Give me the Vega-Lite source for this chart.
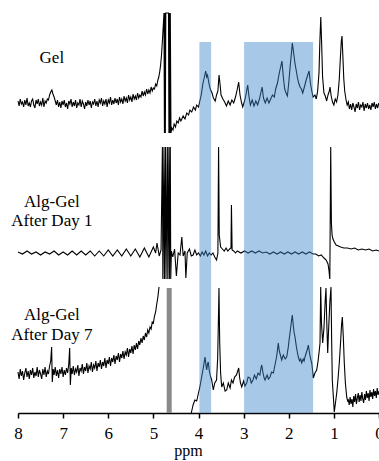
{
"$schema":"https://vega.github.io/schema/vega-lite/v6.json",
"width":361,"height":413,
"autosize":{"type":"none"},
"padding":{"left":18,"top":0,"right":0,"bottom":48},
"config":{"view":{"stroke":null}},
"datasets":{
"gel":[
{"ppm":8.000,"v":312},{"ppm":7.975,"v":307},{"ppm":7.950,"v":314},{"ppm":7.925,"v":309},{"ppm":7.900,"v":311},{"ppm":7.875,"v":306},{"ppm":7.850,"v":313},{"ppm":7.825,"v":308},{"ppm":7.800,"v":315},{"ppm":7.775,"v":307},{"ppm":7.750,"v":310},{"ppm":7.725,"v":306},{"ppm":7.700,"v":312},{"ppm":7.675,"v":314},{"ppm":7.650,"v":308},{"ppm":7.625,"v":305},{"ppm":7.600,"v":313},{"ppm":7.575,"v":309},{"ppm":7.550,"v":314},{"ppm":7.525,"v":307},{"ppm":7.500,"v":311},{"ppm":7.475,"v":308},{"ppm":7.450,"v":315},{"ppm":7.425,"v":306},{"ppm":7.400,"v":312},{"ppm":7.375,"v":310},{"ppm":7.350,"v":314},{"ppm":7.325,"v":313},{"ppm":7.300,"v":318},{"ppm":7.275,"v":321},{"ppm":7.250,"v":323},{"ppm":7.225,"v":319},{"ppm":7.200,"v":316},{"ppm":7.175,"v":312},{"ppm":7.150,"v":308},{"ppm":7.125,"v":313},{"ppm":7.100,"v":306},{"ppm":7.075,"v":311},{"ppm":7.050,"v":305},{"ppm":7.025,"v":312},{"ppm":7.000,"v":308},{"ppm":6.975,"v":313},{"ppm":6.950,"v":306},{"ppm":6.925,"v":310},{"ppm":6.900,"v":304},{"ppm":6.875,"v":312},{"ppm":6.850,"v":309},{"ppm":6.825,"v":314},{"ppm":6.800,"v":306},{"ppm":6.775,"v":311},{"ppm":6.750,"v":307},{"ppm":6.725,"v":313},{"ppm":6.700,"v":305},{"ppm":6.675,"v":310},{"ppm":6.650,"v":308},{"ppm":6.625,"v":314},{"ppm":6.600,"v":306},{"ppm":6.575,"v":312},{"ppm":6.550,"v":309},{"ppm":6.525,"v":304},{"ppm":6.500,"v":311},{"ppm":6.475,"v":307},{"ppm":6.450,"v":313},{"ppm":6.425,"v":308},{"ppm":6.400,"v":312},{"ppm":6.375,"v":305},{"ppm":6.350,"v":311},{"ppm":6.325,"v":309},{"ppm":6.300,"v":314},{"ppm":6.275,"v":307},{"ppm":6.250,"v":312},{"ppm":6.225,"v":306},{"ppm":6.200,"v":313},{"ppm":6.175,"v":310},{"ppm":6.150,"v":315},{"ppm":6.125,"v":307},{"ppm":6.100,"v":312},{"ppm":6.075,"v":309},{"ppm":6.050,"v":314},{"ppm":6.025,"v":306},{"ppm":6.000,"v":313},{"ppm":5.975,"v":310},{"ppm":5.950,"v":316},{"ppm":5.925,"v":308},{"ppm":5.900,"v":313},{"ppm":5.875,"v":309},{"ppm":5.850,"v":315},{"ppm":5.825,"v":310},{"ppm":5.800,"v":314},{"ppm":5.775,"v":308},{"ppm":5.750,"v":316},{"ppm":5.725,"v":311},{"ppm":5.700,"v":314},{"ppm":5.675,"v":309},{"ppm":5.650,"v":317},{"ppm":5.625,"v":312},{"ppm":5.600,"v":315},{"ppm":5.575,"v":310},{"ppm":5.550,"v":318},{"ppm":5.525,"v":313},{"ppm":5.500,"v":316},{"ppm":5.475,"v":311},{"ppm":5.450,"v":319},{"ppm":5.425,"v":314},{"ppm":5.400,"v":317},{"ppm":5.375,"v":313},{"ppm":5.350,"v":320},{"ppm":5.325,"v":315},{"ppm":5.300,"v":318},{"ppm":5.275,"v":316},{"ppm":5.250,"v":322},{"ppm":5.225,"v":317},{"ppm":5.200,"v":321},{"ppm":5.175,"v":318},{"ppm":5.150,"v":324},{"ppm":5.125,"v":319},{"ppm":5.100,"v":323},{"ppm":5.075,"v":320},{"ppm":5.050,"v":326},{"ppm":5.025,"v":322},{"ppm":5.000,"v":325},{"ppm":4.975,"v":324},{"ppm":4.950,"v":329},{"ppm":4.925,"v":327},{"ppm":4.900,"v":333},{"ppm":4.880,"v":336},{"ppm":4.860,"v":341},{"ppm":4.84,"v":348},{"ppm":4.82,"v":358},{"ppm":4.80,"v":372},{"ppm":4.78,"v":388},
{"ppm":4.765,"v":400},{"ppm":4.755,"v":280},{"ppm":4.745,"v":400},{"ppm":4.735,"v":280},{"ppm":4.725,"v":400},{"ppm":4.712,"v":400},{"ppm":4.665,"v":400},{"ppm":4.655,"v":280},{"ppm":4.645,"v":400},{"ppm":4.635,"v":280},{"ppm":4.625,"v":400},{"ppm":4.61,"v":280},
{"ppm":4.59,"v":285},{"ppm":4.565,"v":283},{"ppm":4.54,"v":289},{"ppm":4.51,"v":286},{"ppm":4.48,"v":292},{"ppm":4.45,"v":290},{"ppm":4.42,"v":295},{"ppm":4.39,"v":292},{"ppm":4.34,"v":297},{"ppm":4.30,"v":294},{"ppm":4.26,"v":300},{"ppm":4.22,"v":298},{"ppm":4.19,"v":303},{"ppm":4.15,"v":301},{"ppm":4.11,"v":306},{"ppm":4.07,"v":303},{"ppm":4.04,"v":308},{"ppm":4.00,"v":306},{"ppm":3.97,"v":312},{"ppm":3.94,"v":318},{"ppm":3.90,"v":330},{"ppm":3.87,"v":336},{"ppm":3.84,"v":342},{"ppm":3.82,"v":336},{"ppm":3.80,"v":338},{"ppm":3.77,"v":330},{"ppm":3.74,"v":324},{"ppm":3.70,"v":320},{"ppm":3.67,"v":315},{"ppm":3.63,"v":312},{"ppm":3.60,"v":318},{"ppm":3.57,"v":322},{"ppm":3.545,"v":338},{"ppm":3.525,"v":330},{"ppm":3.50,"v":318},{"ppm":3.46,"v":314},{"ppm":3.42,"v":311},{"ppm":3.38,"v":307},{"ppm":3.34,"v":312},{"ppm":3.30,"v":308},{"ppm":3.26,"v":313},{"ppm":3.22,"v":310},{"ppm":3.18,"v":316},{"ppm":3.14,"v":324},{"ppm":3.11,"v":331},{"ppm":3.08,"v":318},{"ppm":3.05,"v":311},{"ppm":3.02,"v":306},{"ppm":2.98,"v":312},{"ppm":2.95,"v":318},{"ppm":2.91,"v":328},{"ppm":2.88,"v":316},{"ppm":2.85,"v":308},{"ppm":2.81,"v":313},{"ppm":2.77,"v":307},{"ppm":2.73,"v":312},{"ppm":2.69,"v":308},{"ppm":2.65,"v":314},{"ppm":2.61,"v":322},{"ppm":2.59,"v":326},{"ppm":2.56,"v":315},{"ppm":2.52,"v":310},{"ppm":2.48,"v":315},{"ppm":2.44,"v":310},{"ppm":2.40,"v":314},{"ppm":2.36,"v":318},{"ppm":2.32,"v":316},{"ppm":2.29,"v":324},{"ppm":2.25,"v":330},{"ppm":2.21,"v":340},{"ppm":2.18,"v":346},{"ppm":2.15,"v":352},{"ppm":2.12,"v":336},{"ppm":2.09,"v":324},{"ppm":2.06,"v":320},{"ppm":2.03,"v":317},{"ppm":2.00,"v":330},{"ppm":1.97,"v":346},{"ppm":1.94,"v":360},{"ppm":1.92,"v":370},{"ppm":1.90,"v":363},{"ppm":1.88,"v":356},{"ppm":1.86,"v":349},{"ppm":1.84,"v":344},{"ppm":1.81,"v":336},{"ppm":1.78,"v":330},{"ppm":1.75,"v":326},{"ppm":1.72,"v":324},{"ppm":1.69,"v":320},{"ppm":1.66,"v":325},{"ppm":1.62,"v":332},{"ppm":1.58,"v":338},{"ppm":1.55,"v":342},{"ppm":1.52,"v":330},{"ppm":1.49,"v":322},{"ppm":1.46,"v":316},{"ppm":1.42,"v":318},{"ppm":1.39,"v":314},{"ppm":1.36,"v":322},{"ppm":1.33,"v":340},{"ppm":1.31,"v":372},{"ppm":1.29,"v":396},{"ppm":1.27,"v":368},{"ppm":1.25,"v":336},{"ppm":1.22,"v":320},{"ppm":1.19,"v":317},{"ppm":1.16,"v":312},{"ppm":1.13,"v":318},{"ppm":1.10,"v":322},{"ppm":1.085,"v":326},{"ppm":1.06,"v":317},{"ppm":1.03,"v":311},{"ppm":1.00,"v":308},{"ppm":0.97,"v":314},{"ppm":0.94,"v":311},{"ppm":0.91,"v":318},{"ppm":0.88,"v":334},{"ppm":0.855,"v":356},{"ppm":0.835,"v":372},{"ppm":0.82,"v":377},{"ppm":0.80,"v":356},{"ppm":0.78,"v":334},{"ppm":0.76,"v":322},
{"ppm":0.730,"v":313},{"ppm":0.705,"v":308},{"ppm":0.680,"v":311},{"ppm":0.655,"v":304},{"ppm":0.630,"v":309},{"ppm":0.605,"v":303},{"ppm":0.580,"v":310},{"ppm":0.555,"v":306},{"ppm":0.530,"v":301},{"ppm":0.505,"v":309},{"ppm":0.480,"v":305},{"ppm":0.455,"v":311},{"ppm":0.430,"v":303},{"ppm":0.405,"v":308},{"ppm":0.380,"v":306},{"ppm":0.355,"v":311},{"ppm":0.330,"v":302},{"ppm":0.305,"v":309},{"ppm":0.280,"v":305},{"ppm":0.255,"v":310},{"ppm":0.230,"v":304},{"ppm":0.205,"v":308},{"ppm":0.180,"v":303},{"ppm":0.155,"v":310},{"ppm":0.130,"v":306},{"ppm":0.105,"v":311},{"ppm":0.080,"v":304},{"ppm":0.055,"v":309},{"ppm":0.030,"v":305},{"ppm":0.005,"v":310}
],
"day1":[
{"ppm":8.00,"v":161},{"ppm":7.90,"v":159},{"ppm":7.80,"v":162},{"ppm":7.70,"v":159},{"ppm":7.60,"v":161},{"ppm":7.50,"v":158},{"ppm":7.40,"v":161},{"ppm":7.30,"v":159},{"ppm":7.20,"v":162},{"ppm":7.10,"v":158},{"ppm":7.00,"v":161},{"ppm":6.90,"v":158},{"ppm":6.80,"v":162},{"ppm":6.70,"v":158},{"ppm":6.60,"v":162},{"ppm":6.50,"v":158},{"ppm":6.40,"v":162},{"ppm":6.30,"v":157},{"ppm":6.20,"v":162},{"ppm":6.10,"v":157},{"ppm":6.00,"v":163},{"ppm":5.90,"v":157},{"ppm":5.80,"v":163},{"ppm":5.70,"v":157},{"ppm":5.60,"v":164},{"ppm":5.50,"v":157},{"ppm":5.40,"v":164},{"ppm":5.30,"v":156},{"ppm":5.20,"v":165},{"ppm":5.10,"v":156},{"ppm":5.00,"v":166},{"ppm":4.95,"v":160},{"ppm":4.92,"v":170},{"ppm":4.87,"v":157},{"ppm":4.83,"v":163},
{"ppm":4.80,"v":266},{"ppm":4.79,"v":134},{"ppm":4.765,"v":266},{"ppm":4.755,"v":134},{"ppm":4.73,"v":266},{"ppm":4.72,"v":134},{"ppm":4.69,"v":266},{"ppm":4.68,"v":134},{"ppm":4.655,"v":266},{"ppm":4.645,"v":134},{"ppm":4.625,"v":266},{"ppm":4.615,"v":134},
{"ppm":4.60,"v":162},{"ppm":4.57,"v":156},{"ppm":4.53,"v":164},{"ppm":4.49,"v":137},{"ppm":4.45,"v":160},{"ppm":4.41,"v":158},{"ppm":4.37,"v":176},{"ppm":4.34,"v":157},{"ppm":4.30,"v":162},{"ppm":4.28,"v":135},{"ppm":4.25,"v":160},{"ppm":4.20,"v":164},{"ppm":4.16,"v":157},{"ppm":4.12,"v":158},{"ppm":4.08,"v":163},{"ppm":4.04,"v":158},{"ppm":4.00,"v":160},{"ppm":3.96,"v":157},{"ppm":3.92,"v":161},{"ppm":3.88,"v":158},{"ppm":3.84,"v":162},{"ppm":3.80,"v":157},{"ppm":3.76,"v":160},{"ppm":3.72,"v":158},{"ppm":3.68,"v":160},{"ppm":3.64,"v":156},{"ppm":3.60,"v":153},{"ppm":3.57,"v":160},{"ppm":3.555,"v":266},{"ppm":3.54,"v":178},{"ppm":3.51,"v":166},{"ppm":3.47,"v":164},{"ppm":3.43,"v":162},{"ppm":3.39,"v":165},{"ppm":3.35,"v":162},{"ppm":3.31,"v":164},{"ppm":3.28,"v":165},{"ppm":3.27,"v":208},{"ppm":3.255,"v":163},{"ppm":3.22,"v":162},{"ppm":3.18,"v":160},
{"ppm":3.14,"v":162},{"ppm":3.06,"v":160},{"ppm":2.98,"v":162},{"ppm":2.90,"v":160},{"ppm":2.82,"v":162},{"ppm":2.74,"v":160},{"ppm":2.66,"v":162},{"ppm":2.58,"v":160},{"ppm":2.50,"v":161},{"ppm":2.42,"v":159},{"ppm":2.34,"v":161},{"ppm":2.26,"v":159},{"ppm":2.18,"v":161},{"ppm":2.10,"v":159},{"ppm":2.02,"v":161},{"ppm":1.94,"v":159},{"ppm":1.86,"v":161},{"ppm":1.78,"v":159},{"ppm":1.70,"v":161},{"ppm":1.62,"v":159},{"ppm":1.54,"v":161},{"ppm":1.46,"v":159},{"ppm":1.40,"v":159},{"ppm":1.34,"v":157},{"ppm":1.28,"v":158},{"ppm":1.22,"v":155},{"ppm":1.17,"v":153},{"ppm":1.13,"v":149},{"ppm":1.11,"v":143},{"ppm":1.09,"v":134},{"ppm":1.07,"v":266},{"ppm":1.055,"v":190},{"ppm":1.04,"v":178},{"ppm":1.02,"v":174},{"ppm":0.99,"v":171},{"ppm":0.95,"v":168},{"ppm":0.90,"v":167},{"ppm":0.85,"v":166},{"ppm":0.78,"v":165},{"ppm":0.70,"v":165},{"ppm":0.62,"v":164},{"ppm":0.54,"v":165},{"ppm":0.46,"v":163},{"ppm":0.38,"v":164},{"ppm":0.30,"v":163},{"ppm":0.22,"v":164},{"ppm":0.14,"v":162},{"ppm":0.06,"v":163},{"ppm":0.00,"v":162}
],
"day7a":[
{"ppm":8.000,"v":41},{"ppm":7.975,"v":34},{"ppm":7.950,"v":44},{"ppm":7.925,"v":37},{"ppm":7.900,"v":42},{"ppm":7.875,"v":33},{"ppm":7.850,"v":40},{"ppm":7.825,"v":45},{"ppm":7.800,"v":36},{"ppm":7.775,"v":42},{"ppm":7.750,"v":34},{"ppm":7.725,"v":43},{"ppm":7.700,"v":38},{"ppm":7.675,"v":45},{"ppm":7.650,"v":35},{"ppm":7.625,"v":41},{"ppm":7.600,"v":37},{"ppm":7.575,"v":46},{"ppm":7.550,"v":36},{"ppm":7.525,"v":43},{"ppm":7.500,"v":39},{"ppm":7.475,"v":34},{"ppm":7.450,"v":44},{"ppm":7.425,"v":38},{"ppm":7.400,"v":46},{"ppm":7.375,"v":36},{"ppm":7.350,"v":42},{"ppm":7.325,"v":39},{"ppm":7.300,"v":47},{"ppm":7.275,"v":52},{"ppm":7.255,"v":66},{"ppm":7.240,"v":31},{"ppm":7.220,"v":44},{"ppm":7.200,"v":38},{"ppm":7.175,"v":46},{"ppm":7.150,"v":37},{"ppm":7.125,"v":43},{"ppm":7.100,"v":35},{"ppm":7.075,"v":44},{"ppm":7.050,"v":39},{"ppm":7.025,"v":46},{"ppm":7.000,"v":36},{"ppm":6.975,"v":43},{"ppm":6.950,"v":38},{"ppm":6.925,"v":45},{"ppm":6.900,"v":40},{"ppm":6.875,"v":49},{"ppm":6.855,"v":65},{"ppm":6.840,"v":28},{"ppm":6.820,"v":45},{"ppm":6.800,"v":39},{"ppm":6.775,"v":47},{"ppm":6.750,"v":38},{"ppm":6.725,"v":44},{"ppm":6.700,"v":41},{"ppm":6.675,"v":48},{"ppm":6.650,"v":37},{"ppm":6.625,"v":45},{"ppm":6.600,"v":42},{"ppm":6.575,"v":49},{"ppm":6.550,"v":39},{"ppm":6.525,"v":46},{"ppm":6.500,"v":42},{"ppm":6.475,"v":50},{"ppm":6.450,"v":40},{"ppm":6.425,"v":47},{"ppm":6.400,"v":44},{"ppm":6.375,"v":51},{"ppm":6.350,"v":41},{"ppm":6.325,"v":48},{"ppm":6.300,"v":45},{"ppm":6.275,"v":52},{"ppm":6.250,"v":42},{"ppm":6.225,"v":50},{"ppm":6.200,"v":46},{"ppm":6.175,"v":53},{"ppm":6.150,"v":44},{"ppm":6.125,"v":51},{"ppm":6.100,"v":47},{"ppm":6.075,"v":55},{"ppm":6.050,"v":45},{"ppm":6.025,"v":53},{"ppm":6.000,"v":49},{"ppm":5.975,"v":56},{"ppm":5.950,"v":47},{"ppm":5.925,"v":55},{"ppm":5.900,"v":51},{"ppm":5.875,"v":58},{"ppm":5.850,"v":49},{"ppm":5.825,"v":57},{"ppm":5.800,"v":53},{"ppm":5.775,"v":60},{"ppm":5.750,"v":51},{"ppm":5.725,"v":59},{"ppm":5.700,"v":55},{"ppm":5.675,"v":62},{"ppm":5.650,"v":54},{"ppm":5.625,"v":61},{"ppm":5.600,"v":58},{"ppm":5.575,"v":65},{"ppm":5.550,"v":56},{"ppm":5.525,"v":64},{"ppm":5.500,"v":60},{"ppm":5.475,"v":67},{"ppm":5.450,"v":59},{"ppm":5.425,"v":68},{"ppm":5.400,"v":63},{"ppm":5.375,"v":70},{"ppm":5.350,"v":64},{"ppm":5.325,"v":72},{"ppm":5.300,"v":68},{"ppm":5.275,"v":75},{"ppm":5.250,"v":70},{"ppm":5.225,"v":77},{"ppm":5.200,"v":73},{"ppm":5.175,"v":80},{"ppm":5.150,"v":76},{"ppm":5.125,"v":83},{"ppm":5.100,"v":80},{"ppm":5.075,"v":86},{"ppm":5.050,"v":84},{"ppm":5.025,"v":91},{"ppm":5.000,"v":90},{"ppm":4.975,"v":97},{"ppm":4.950,"v":101},{"ppm":4.925,"v":109},{"ppm":4.900,"v":116},{"ppm":4.875,"v":126}
],
"day7b":[
{"ppm":4.16,"v":0},{"ppm":4.12,"v":8},{"ppm":4.08,"v":13},{"ppm":4.04,"v":12},{"ppm":4.00,"v":20},{"ppm":3.97,"v":26},{"ppm":3.93,"v":36},{"ppm":3.89,"v":46},{"ppm":3.856,"v":56},{"ppm":3.835,"v":48},{"ppm":3.818,"v":43},{"ppm":3.80,"v":49},{"ppm":3.783,"v":51},{"ppm":3.76,"v":42},{"ppm":3.73,"v":36},{"ppm":3.708,"v":33},{"ppm":3.672,"v":23},{"ppm":3.64,"v":30},{"ppm":3.60,"v":33},{"ppm":3.575,"v":55},{"ppm":3.556,"v":100},{"ppm":3.546,"v":125},{"ppm":3.538,"v":95},{"ppm":3.53,"v":70},{"ppm":3.51,"v":40},{"ppm":3.486,"v":26},{"ppm":3.45,"v":30},{"ppm":3.41,"v":22},{"ppm":3.375,"v":23},{"ppm":3.34,"v":30},{"ppm":3.30,"v":25},{"ppm":3.27,"v":33},{"ppm":3.235,"v":30},{"ppm":3.20,"v":36},{"ppm":3.158,"v":38},{"ppm":3.13,"v":42},{"ppm":3.109,"v":45},{"ppm":3.09,"v":36},{"ppm":3.07,"v":30},{"ppm":3.042,"v":26},{"ppm":3.00,"v":32},{"ppm":2.97,"v":27},{"ppm":2.932,"v":30},{"ppm":2.90,"v":36},{"ppm":2.858,"v":35},{"ppm":2.83,"v":30},{"ppm":2.792,"v":33},{"ppm":2.76,"v":38},{"ppm":2.72,"v":34},{"ppm":2.68,"v":40},{"ppm":2.64,"v":38},{"ppm":2.62,"v":44},{"ppm":2.599,"v":48},{"ppm":2.57,"v":40},{"ppm":2.545,"v":35},{"ppm":2.526,"v":33},{"ppm":2.48,"v":38},{"ppm":2.45,"v":34},{"ppm":2.415,"v":36},{"ppm":2.38,"v":41},{"ppm":2.34,"v":40},{"ppm":2.305,"v":48},{"ppm":2.27,"v":56},{"ppm":2.25,"v":63},{"ppm":2.232,"v":70},{"ppm":2.21,"v":62},{"ppm":2.18,"v":57},{"ppm":2.156,"v":53},{"ppm":2.12,"v":58},{"ppm":2.08,"v":54},{"ppm":2.045,"v":56},{"ppm":2.01,"v":66},{"ppm":1.99,"v":74},{"ppm":1.972,"v":80},{"ppm":1.945,"v":90},{"ppm":1.921,"v":98},{"ppm":1.90,"v":88},{"ppm":1.88,"v":80},{"ppm":1.861,"v":76},{"ppm":1.83,"v":66},{"ppm":1.81,"v":61},{"ppm":1.788,"v":56},{"ppm":1.76,"v":52},{"ppm":1.735,"v":54},{"ppm":1.713,"v":50},{"ppm":1.68,"v":54},{"ppm":1.66,"v":52},{"ppm":1.64,"v":56},{"ppm":1.60,"v":62},{"ppm":1.58,"v":65},{"ppm":1.566,"v":68},{"ppm":1.54,"v":60},{"ppm":1.52,"v":55},{"ppm":1.491,"v":50},{"ppm":1.47,"v":42},{"ppm":1.456,"v":35},{"ppm":1.42,"v":40},{"ppm":1.381,"v":43},{"ppm":1.35,"v":52},{"ppm":1.325,"v":62},{"ppm":1.307,"v":70},{"ppm":1.292,"v":126},{"ppm":1.275,"v":90},{"ppm":1.248,"v":70},{"ppm":1.22,"v":85},{"ppm":1.195,"v":110},{"ppm":1.175,"v":125},{"ppm":1.16,"v":95},{"ppm":1.137,"v":60},{"ppm":1.12,"v":80},{"ppm":1.09,"v":110},{"ppm":1.064,"v":126},{"ppm":1.05,"v":75},{"ppm":1.035,"v":33},{"ppm":1.01,"v":15},{"ppm":0.991,"v":1},{"ppm":0.965,"v":10},{"ppm":0.937,"v":20},{"ppm":0.91,"v":33},{"ppm":0.88,"v":50},{"ppm":0.85,"v":72},{"ppm":0.83,"v":88},{"ppm":0.813,"v":96},{"ppm":0.79,"v":75},{"ppm":0.769,"v":50},{"ppm":0.745,"v":30},{"ppm":0.716,"v":16},{"ppm":0.695,"v":12},
{"ppm":0.680,"v":13},{"ppm":0.660,"v":8},{"ppm":0.640,"v":16},{"ppm":0.620,"v":9},{"ppm":0.600,"v":14},{"ppm":0.580,"v":6},{"ppm":0.560,"v":17},{"ppm":0.540,"v":11},{"ppm":0.520,"v":19},{"ppm":0.500,"v":9},{"ppm":0.480,"v":15},{"ppm":0.460,"v":20},{"ppm":0.440,"v":11},{"ppm":0.420,"v":18},{"ppm":0.400,"v":12},{"ppm":0.380,"v":21},{"ppm":0.360,"v":14},{"ppm":0.340,"v":10},{"ppm":0.320,"v":19},{"ppm":0.300,"v":13},{"ppm":0.280,"v":22},{"ppm":0.260,"v":15},{"ppm":0.240,"v":20},{"ppm":0.220,"v":12},{"ppm":0.200,"v":23},{"ppm":0.180,"v":16},{"ppm":0.160,"v":21},{"ppm":0.140,"v":14},{"ppm":0.120,"v":24},{"ppm":0.100,"v":17},{"ppm":0.080,"v":22},{"ppm":0.060,"v":15},{"ppm":0.040,"v":25},{"ppm":0.020,"v":18},{"ppm":0.000,"v":22}
],
"water":[{"ppm":4.705,"end":4.594,"v":125,"base":0}],
"boxes":[{"ppm":3.98,"end":3.72,"v":371,"base":0},{"ppm":2.99,"end":1.46,"v":371,"base":0}],
"labels":[{"ppm":7.25,"v":355,"label":"Gel"},{"ppm":7.25,"v":211,"label":"Alg-Gel"},{"ppm":7.25,"v":192,"label":"After Day 1"},{"ppm":7.25,"v":98,"label":"Alg-Gel"},{"ppm":7.25,"v":78,"label":"After Day 7"}]
},
"encoding":{
"x":{"field":"ppm","type":"quantitative","scale":{"domain":[8,0],"nice":false,"zero":false},
"axis":{"values":[0,1,2,3,4,5,6,7,8],"format":"d","title":"ppm","grid":false,"domainColor":"black","domainWidth":1.5,"tickColor":"black","tickWidth":1.5,"tickSize":5,"labelFont":"Liberation Serif","labelFontSize":17,"labelColor":"black","labelPadding":7,"labelFlush":false,"labelOverlap":false,"titleFont":"Liberation Serif","titleFontSize":16,"titleFontWeight":"normal","titleColor":"black","titleX":170,"titleY":42,"titleBaseline":"alphabetic","titleAlign":"center"}},
"y":{"field":"v","type":"quantitative","scale":{"domain":[0,413],"nice":false,"zero":false},"axis":null}
},
"layer":[
{"data":{"name":"gel"},"mark":{"type":"line","color":"black","strokeWidth":1.1}},
{"data":{"name":"day1"},"mark":{"type":"line","color":"black","strokeWidth":1.1}},
{"data":{"name":"day7a"},"mark":{"type":"line","color":"black","strokeWidth":1.1}},
{"data":{"name":"day7b"},"mark":{"type":"line","color":"black","strokeWidth":1.1}},
{"data":{"name":"water"},"mark":{"type":"rect","color":"#8a8a8a"},"encoding":{"x2":{"field":"end"},"y2":{"field":"base"}}},
{"data":{"name":"boxes"},"mark":{"type":"rect","color":"#3f86cd","opacity":0.45},"encoding":{"x2":{"field":"end"},"y2":{"field":"base"}}},
{"data":{"name":"labels"},"mark":{"type":"text","font":"Liberation Serif","fontSize":17,"align":"center","baseline":"middle","color":"black"},"encoding":{"text":{"field":"label"}}}
]
}
